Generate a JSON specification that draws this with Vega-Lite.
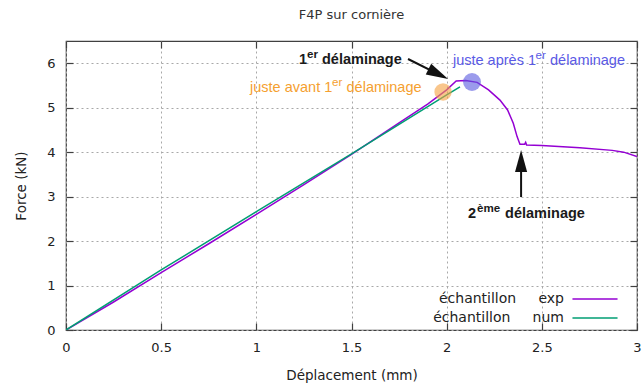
{
  "$schema": "https://vega.github.io/schema/vega-lite/v6.json",
  "width": 571,
  "height": 289,
  "autosize": {"type": "none"},
  "padding": {"left": 66, "top": 41, "right": 7, "bottom": 53},
  "background": "white",
  "title": {"text": "F4P sur cornière", "font": "DejaVu Sans", "fontSize": 13, "fontWeight": "normal", "color": "#333333", "offset": 18, "anchor": "middle"},
  "config": {
    "view": {"stroke": "#404040", "strokeWidth": 1.2},
    "axis": {
      "labelFont": "DejaVu Sans", "titleFont": "DejaVu Sans",
      "labelFontSize": 13, "titleFontSize": 13.5, "titleFontWeight": "normal",
      "labelColor": "#222222", "titleColor": "#222222",
      "domain": false, "tickColor": "#404040", "tickSize": -7, "tickWidth": 1.2,
      "gridColor": "#a8a8a8", "gridDash": [2, 3], "gridWidth": 1
    },
    "legend": {
      "orient": "none", "legendX": 522, "legendY": 251,
      "symbolType": "M-4,0H4", "symbolSize": 127, "symbolStrokeWidth": 1.5,
      "labelAlign": "right", "labelOffset": -38, "labelFont": "DejaVu Sans",
      "labelFontSize": 14, "labelColor": "#222222", "rowPadding": 5,
      "labelLimit": 300, "padding": 0
    }
  },
  "datasets": {
    "courbes": [
      {"d": 0, "f": 0, "serie": "échantillon\u00a0\u00a0\u00a0\u00a0\u00a0exp"},
      {"d": 0.25, "f": 0.63, "serie": "échantillon\u00a0\u00a0\u00a0\u00a0\u00a0exp"},
      {"d": 0.5, "f": 1.29, "serie": "échantillon\u00a0\u00a0\u00a0\u00a0\u00a0exp"},
      {"d": 0.75, "f": 1.94, "serie": "échantillon\u00a0\u00a0\u00a0\u00a0\u00a0exp"},
      {"d": 1.0, "f": 2.6, "serie": "échantillon\u00a0\u00a0\u00a0\u00a0\u00a0exp"},
      {"d": 1.25, "f": 3.27, "serie": "échantillon\u00a0\u00a0\u00a0\u00a0\u00a0exp"},
      {"d": 1.5, "f": 3.95, "serie": "échantillon\u00a0\u00a0\u00a0\u00a0\u00a0exp"},
      {"d": 1.75, "f": 4.66, "serie": "échantillon\u00a0\u00a0\u00a0\u00a0\u00a0exp"},
      {"d": 1.9, "f": 5.08, "serie": "échantillon\u00a0\u00a0\u00a0\u00a0\u00a0exp"},
      {"d": 2.0, "f": 5.4, "serie": "échantillon\u00a0\u00a0\u00a0\u00a0\u00a0exp"},
      {"d": 2.05, "f": 5.6, "serie": "échantillon\u00a0\u00a0\u00a0\u00a0\u00a0exp"},
      {"d": 2.1, "f": 5.61, "serie": "échantillon\u00a0\u00a0\u00a0\u00a0\u00a0exp"},
      {"d": 2.16, "f": 5.57, "serie": "échantillon\u00a0\u00a0\u00a0\u00a0\u00a0exp"},
      {"d": 2.22, "f": 5.4, "serie": "échantillon\u00a0\u00a0\u00a0\u00a0\u00a0exp"},
      {"d": 2.28, "f": 5.17, "serie": "échantillon\u00a0\u00a0\u00a0\u00a0\u00a0exp"},
      {"d": 2.32, "f": 4.95, "serie": "échantillon\u00a0\u00a0\u00a0\u00a0\u00a0exp"},
      {"d": 2.35, "f": 4.65, "serie": "échantillon\u00a0\u00a0\u00a0\u00a0\u00a0exp"},
      {"d": 2.37, "f": 4.35, "serie": "échantillon\u00a0\u00a0\u00a0\u00a0\u00a0exp"},
      {"d": 2.385, "f": 4.18, "serie": "échantillon\u00a0\u00a0\u00a0\u00a0\u00a0exp"},
      {"d": 2.41, "f": 4.18, "serie": "échantillon\u00a0\u00a0\u00a0\u00a0\u00a0exp"},
      {"d": 2.415, "f": 4.22, "serie": "échantillon\u00a0\u00a0\u00a0\u00a0\u00a0exp"},
      {"d": 2.42, "f": 4.16, "serie": "échantillon\u00a0\u00a0\u00a0\u00a0\u00a0exp"},
      {"d": 2.5, "f": 4.15, "serie": "échantillon\u00a0\u00a0\u00a0\u00a0\u00a0exp"},
      {"d": 2.7, "f": 4.1, "serie": "échantillon\u00a0\u00a0\u00a0\u00a0\u00a0exp"},
      {"d": 2.87, "f": 4.04, "serie": "échantillon\u00a0\u00a0\u00a0\u00a0\u00a0exp"},
      {"d": 2.93, "f": 4.0, "serie": "échantillon\u00a0\u00a0\u00a0\u00a0\u00a0exp"},
      {"d": 3.0, "f": 3.9, "serie": "échantillon\u00a0\u00a0\u00a0\u00a0\u00a0exp"},
      {"d": 0, "f": 0, "serie": "échantillon\u00a0\u00a0\u00a0\u00a0\u00a0num"},
      {"d": 0.5, "f": 1.35, "serie": "échantillon\u00a0\u00a0\u00a0\u00a0\u00a0num"},
      {"d": 1.0, "f": 2.66, "serie": "échantillon\u00a0\u00a0\u00a0\u00a0\u00a0num"},
      {"d": 1.5, "f": 3.96, "serie": "échantillon\u00a0\u00a0\u00a0\u00a0\u00a0num"},
      {"d": 2.0, "f": 5.29, "serie": "échantillon\u00a0\u00a0\u00a0\u00a0\u00a0num"},
      {"d": 2.07, "f": 5.47, "serie": "échantillon\u00a0\u00a0\u00a0\u00a0\u00a0num"}
    ],
    "marqueurs": [
      {"d": 1.981, "f": 5.353, "moment": "avant"},
      {"d": 2.133, "f": 5.578, "moment": "après"}
    ],
    "fleches": [
      {"d": 1.797, "f": 6.095, "d2": 1.956, "f2": 5.756, "angle": 26.6},
      {"d": 2.391, "f": 2.99, "d2": 2.391, "f2": 3.8, "angle": 270}
    ],
    "notes": [
      {"d": 1.224, "f": 5.983, "texte": "1", "note": "1er", "partie": "base"},
      {"d": 1.266, "f": 6.118, "texte": "er", "note": "1er", "partie": "exposant"},
      {"d": 1.345, "f": 5.983, "texte": "délaminage", "note": "1er", "partie": "base"},
      {"d": 2.112, "f": 2.519, "texte": "2", "note": "2ème", "partie": "base"},
      {"d": 2.159, "f": 2.654, "texte": "ème", "note": "2ème", "partie": "exposant"},
      {"d": 2.307, "f": 2.519, "texte": "délaminage", "note": "2ème", "partie": "base"},
      {"d": 2.033, "f": 5.96, "texte": "juste après 1", "note": "après", "partie": "base"},
      {"d": 2.467, "f": 6.095, "texte": "er", "note": "après", "partie": "exposant"},
      {"d": 2.543, "f": 5.96, "texte": "délaminage", "note": "après", "partie": "base"},
      {"d": 0.967, "f": 5.353, "texte": "juste avant 1", "note": "avant", "partie": "base"},
      {"d": 1.398, "f": 5.488, "texte": "er", "note": "avant", "partie": "exposant"},
      {"d": 1.474, "f": 5.353, "texte": "délaminage", "note": "avant", "partie": "base"}
    ]
  },
  "layer": [
    {
      "data": {"name": "courbes"},
      "mark": {"type": "line", "strokeWidth": 1.5, "clip": true},
      "encoding": {
        "x": {"field": "d", "type": "quantitative", "scale": {"domain": [0, 3], "nice": false},
          "axis": {"orient": "bottom", "values": [0, 0.5, 1, 1.5, 2, 2.5, 3], "format": "~g", "title": "Déplacement (mm)", "grid": true, "labelPadding": 18, "titlePadding": 14, "labelFlush": false}},
        "y": {"field": "f", "type": "quantitative", "scale": {"domain": [0, 6.5], "nice": false},
          "axis": {"orient": "left", "values": [0, 1, 2, 3, 4, 5, 6], "format": "~g", "title": "Force (kN)", "grid": true, "labelPadding": 18, "titlePadding": 18}},
        "color": {"field": "serie", "type": "nominal",
          "scale": {"domain": ["échantillon\u00a0\u00a0\u00a0\u00a0\u00a0exp", "échantillon\u00a0\u00a0\u00a0\u00a0\u00a0num"], "range": ["#9400d3", "#009e73"]},
          "legend": {"title": null}}
      }
    },
    {
      "data": {"name": "courbes"},
      "mark": {"type": "point", "opacity": 0},
      "encoding": {
        "x": {"field": "d", "type": "quantitative", "axis": {"orient": "top", "values": [0, 0.5, 1, 1.5, 2, 2.5, 3], "labels": false, "title": null, "grid": false}},
        "y": {"field": "f", "type": "quantitative", "axis": {"orient": "right", "values": [0, 1, 2, 3, 4, 5, 6], "labels": false, "title": null, "grid": false}}
      }
    },
    {
      "data": {"name": "marqueurs"},
      "transform": [{"filter": "datum.moment === 'avant'"}],
      "mark": {"type": "circle", "size": 300, "color": "#f5a040", "opacity": 0.6},
      "encoding": {
        "x": {"field": "d", "type": "quantitative", "axis": null},
        "y": {"field": "f", "type": "quantitative", "axis": null}
      }
    },
    {
      "data": {"name": "marqueurs"},
      "transform": [{"filter": "datum.moment === 'après'"}],
      "mark": {"type": "circle", "size": 320, "color": "#5858e0", "opacity": 0.6},
      "encoding": {
        "x": {"field": "d", "type": "quantitative", "axis": null},
        "y": {"field": "f", "type": "quantitative", "axis": null}
      }
    },
    {
      "data": {"name": "fleches"},
      "mark": {"type": "rule", "color": "#111111", "strokeWidth": 2},
      "encoding": {
        "x": {"field": "d", "type": "quantitative", "axis": null},
        "y": {"field": "f", "type": "quantitative", "axis": null},
        "x2": {"field": "d2"},
        "y2": {"field": "f2"}
      }
    },
    {
      "data": {"name": "fleches"},
      "mark": {"type": "point", "shape": "M1,0L-1,-0.55L-1,0.55Z", "filled": true, "color": "#111111", "opacity": 1, "size": 484},
      "encoding": {
        "x": {"field": "d2", "type": "quantitative", "axis": null},
        "y": {"field": "f2", "type": "quantitative", "axis": null},
        "angle": {"field": "angle", "type": "quantitative", "scale": null}
      }
    },
    {
      "data": {"name": "notes"},
      "transform": [{"filter": "(datum.note === '1er' || datum.note === '2ème') && datum.partie === 'base'"}],
      "mark": {"type": "text", "align": "left", "baseline": "alphabetic", "font": "Liberation Sans", "fontSize": 14.5, "fontWeight": "bold", "color": "#1a1a1a"},
      "encoding": {
        "x": {"field": "d", "type": "quantitative", "axis": null},
        "y": {"field": "f", "type": "quantitative", "axis": null},
        "text": {"field": "texte"}
      }
    },
    {
      "data": {"name": "notes"},
      "transform": [{"filter": "(datum.note === '1er' || datum.note === '2ème') && datum.partie === 'exposant'"}],
      "mark": {"type": "text", "align": "left", "baseline": "alphabetic", "font": "Liberation Sans", "fontSize": 11.6, "fontWeight": "bold", "color": "#1a1a1a"},
      "encoding": {
        "x": {"field": "d", "type": "quantitative", "axis": null},
        "y": {"field": "f", "type": "quantitative", "axis": null},
        "text": {"field": "texte"}
      }
    },
    {
      "data": {"name": "notes"},
      "transform": [{"filter": "datum.note === 'avant' && datum.partie === 'base'"}],
      "mark": {"type": "text", "align": "left", "baseline": "alphabetic", "font": "Liberation Sans", "fontSize": 14.5, "color": "#f5a030"},
      "encoding": {
        "x": {"field": "d", "type": "quantitative", "axis": null},
        "y": {"field": "f", "type": "quantitative", "axis": null},
        "text": {"field": "texte"}
      }
    },
    {
      "data": {"name": "notes"},
      "transform": [{"filter": "datum.note === 'avant' && datum.partie === 'exposant'"}],
      "mark": {"type": "text", "align": "left", "baseline": "alphabetic", "font": "Liberation Sans", "fontSize": 11.6, "color": "#f5a030"},
      "encoding": {
        "x": {"field": "d", "type": "quantitative", "axis": null},
        "y": {"field": "f", "type": "quantitative", "axis": null},
        "text": {"field": "texte"}
      }
    },
    {
      "data": {"name": "notes"},
      "transform": [{"filter": "datum.note === 'après' && datum.partie === 'base'"}],
      "mark": {"type": "text", "align": "left", "baseline": "alphabetic", "font": "Liberation Sans", "fontSize": 14.5, "color": "#5a5ae6"},
      "encoding": {
        "x": {"field": "d", "type": "quantitative", "axis": null},
        "y": {"field": "f", "type": "quantitative", "axis": null},
        "text": {"field": "texte"}
      }
    },
    {
      "data": {"name": "notes"},
      "transform": [{"filter": "datum.note === 'après' && datum.partie === 'exposant'"}],
      "mark": {"type": "text", "align": "left", "baseline": "alphabetic", "font": "Liberation Sans", "fontSize": 11.6, "color": "#5a5ae6"},
      "encoding": {
        "x": {"field": "d", "type": "quantitative", "axis": null},
        "y": {"field": "f", "type": "quantitative", "axis": null},
        "text": {"field": "texte"}
      }
    }
  ]
}
